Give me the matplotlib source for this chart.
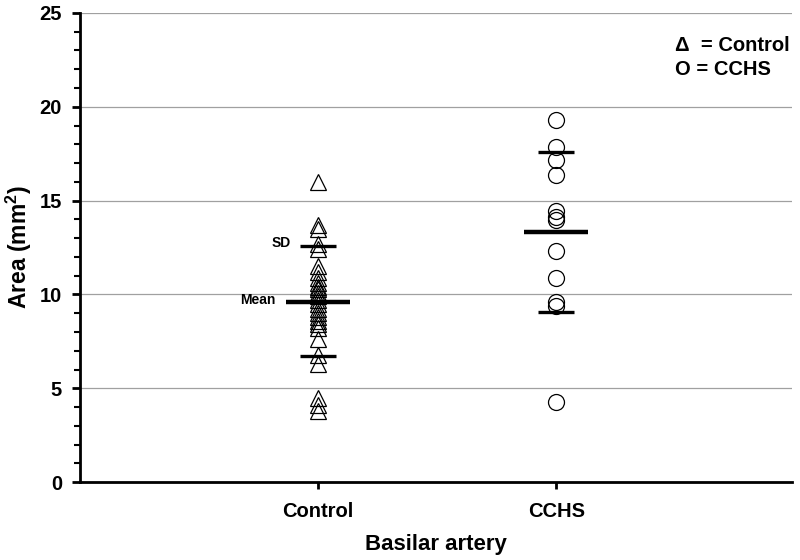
import numpy as np
import matplotlib.pyplot as plt
from matplotlib.ticker import MultipleLocator

plt.rcParams['font.family'] = ['Liberation Sans', 'DejaVu Sans']
plt.rcParams['font.weight'] = 'bold'
plt.rcParams['mathtext.fontset'] = 'custom'
plt.rcParams['mathtext.bf'] = 'Liberation Sans:bold'
plt.rcParams['mathtext.rm'] = 'Liberation Sans:bold'

# Data
groups = ["Control", "CCHS"]
control = [16.0, 13.7, 13.5, 12.7, 12.4, 11.5, 11.2, 10.9, 10.6, 10.4,
           10.3, 10.1, 9.9, 9.7, 9.5, 9.2, 9.0, 8.8, 8.6, 8.4,
           8.2, 7.6, 6.8, 6.3, 4.5, 4.1, 3.8]
cchs = [19.3, 17.85, 17.15, 16.35, 14.45, 14.15, 13.95, 12.3, 10.9,
        9.6, 9.4, 4.25]
means = [9.6, 13.35]
sd_upper = [12.6, 17.6]
sd_lower = [6.7, 9.05]

fig = plt.figure(figsize=(8, 5.6), dpi=100)
ax = fig.add_axes([0.1, 0.139, 0.89, 0.838])

ax.plot(np.full(len(control), 1.0), control, linestyle='none', marker='^',
        markersize=11, markerfacecolor='none', markeredgecolor='black',
        markeredgewidth=0.9)
ax.plot(np.full(len(cchs), 2.0), cchs, linestyle='none', marker='o',
        markersize=11.5, markerfacecolor='none', markeredgecolor='black',
        markeredgewidth=0.9)

for i in range(2):
    x = i + 1
    ax.hlines(means[i], x - 0.135, x + 0.135, color='black', linewidth=3.2, zorder=3)
    ax.hlines([sd_upper[i], sd_lower[i]], x - 0.075, x + 0.075, color='black',
              linewidth=2.4, zorder=3)

ax.text(0.885, sd_upper[0] + 0.15, "SD", ha='right', va='center', fontsize=10,
        fontweight='bold')
ax.text(0.82, means[0] + 0.1, "Mean", ha='right', va='center', fontsize=10,
        fontweight='bold')

ax.text(2.5, 23.24, "\u0394  = Control", fontsize=14.5, fontweight='bold',
        ha='left', va='center')
ax.text(2.5, 21.96, "O = CCHS", fontsize=14.5, fontweight='bold',
        ha='left', va='center')

ax.set_xlim(0, 2.99)
ax.set_ylim(0, 25)
ax.set_xticks([1, 2])
ax.set_xticklabels(groups, fontsize=14.5, fontweight='bold')
ax.set_yticks([0, 5, 10, 15, 20, 25])
ax.yaxis.set_minor_locator(MultipleLocator(1))
ax.tick_params(axis='y', which='major', labelsize=14.5, length=6, width=2, pad=7)
ax.tick_params(axis='y', which='minor', length=4, width=1.5)
ax.tick_params(axis='x', length=5, width=2, pad=9)
for lab in ax.get_yticklabels():
    lab.set_fontweight('bold')

ax.yaxis.grid(True, color='#a0a0a0', linewidth=0.9)
ax.set_axisbelow(True)
ax.spines['top'].set_visible(False)
ax.spines['right'].set_visible(False)
ax.spines['left'].set_linewidth(2)
ax.spines['bottom'].set_linewidth(2)

ax.set_xlabel("Basilar artery", fontsize=16, fontweight='bold', labelpad=10)
ax.set_ylabel(r"Area (mm$\mathbf{^2}$)", fontsize=16.5, fontweight='bold')
ax.yaxis.set_label_coords(-0.064, 0.5)

fig.savefig("out.png", dpi=100)
